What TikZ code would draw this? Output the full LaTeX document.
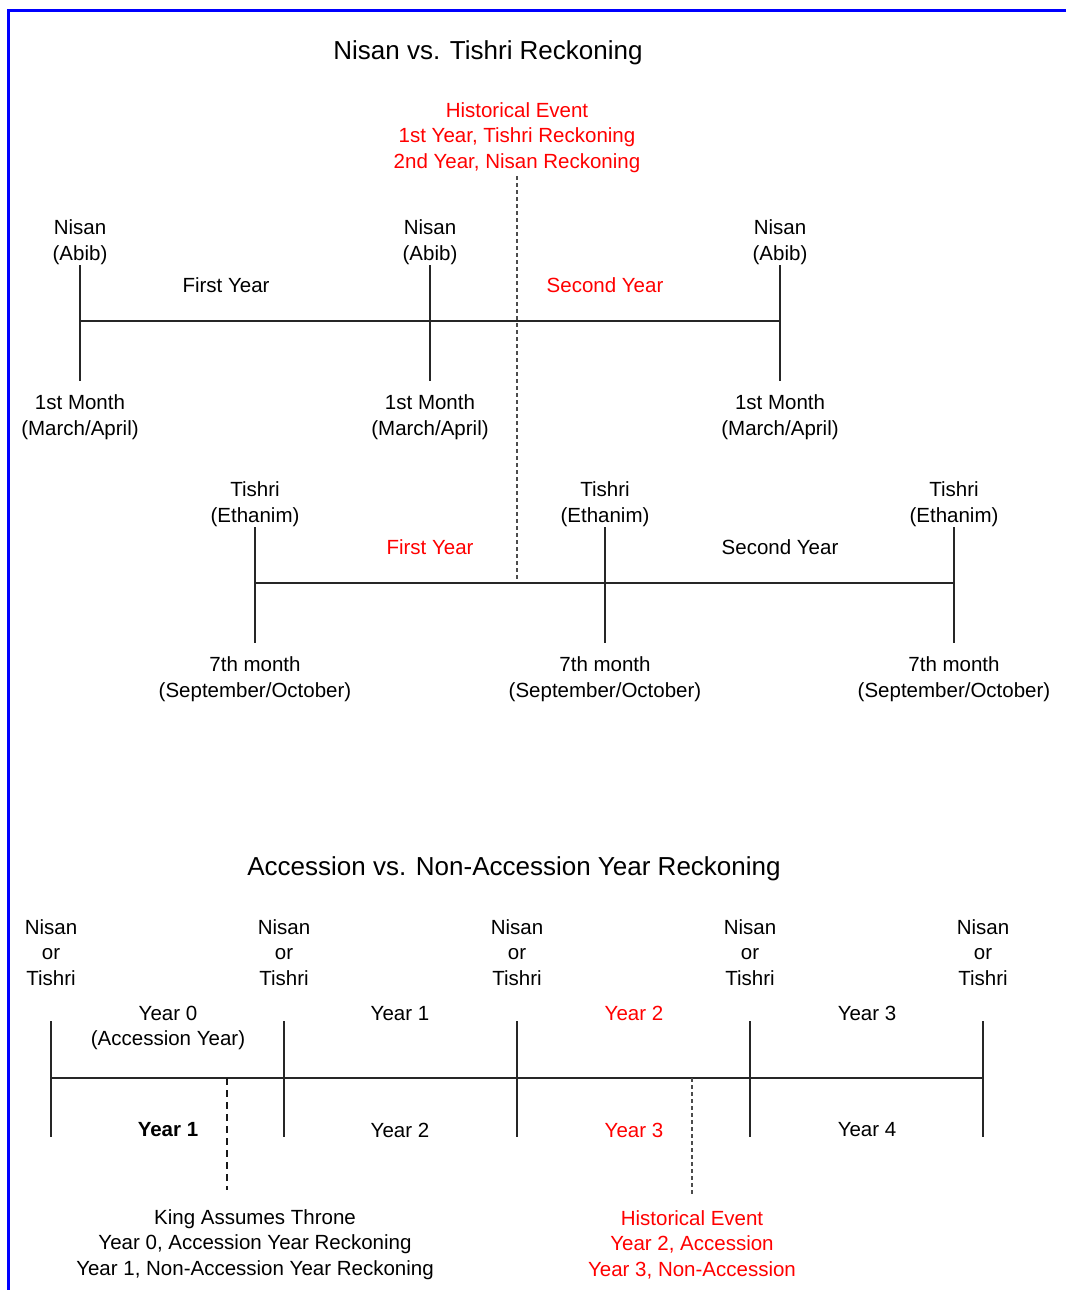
\documentclass[tikz,border=0pt]{standalone}
\usepackage{fontspec}
\setmainfont{Liberation Sans}
\usepackage{tikz}
\usetikzlibrary{positioning}
\usetikzlibrary{calc}
\tikzstyle{txt} = [align=center, inner sep=0pt, font=\fontsize{20.5}{25.5}\selectfont]
\tikzstyle{hot} = [txt, text=red]
\tikzstyle{heading} = [inner sep=0pt, font=\fontsize{26}{30}\selectfont]
\tikzstyle{rule} = [line width=1.3pt, black!85]
\tikzstyle{eventline} = [line width=1.2pt, black!70, dash pattern=on 4pt off 3pt]
\tikzstyle{kingline} = [line width=2pt, black!90, dash pattern=on 7pt off 5pt]

\begin{document}
\begin{tikzpicture}[x=1pt, y=-1pt]
		\useasboundingbox (0,0) rectangle (1066,1290);
		
			% frame
			\draw[blue, line width=3pt] (1066,10.5) -- (8.5,10.5) -- (8.5,1290);
			
			% Nisan vs. Tishri
			\node[heading] (title1) at (488,53) {Nisan vs. Tishri Reckoning};
			\node[hot] (event1) at (517,137.5) {Historical Event\\1st Year, Tishri Reckoning\\2nd Year, Nisan Reckoning};
			\coordinate (event1top) at (517,176);
			\coordinate (event1bot) at (517,582);
			\draw[eventline] (event1top) -- (event1bot);
			
			% Nisan line
			\foreach \x/\n in {80/1, 430/2, 780/3} {
				\coordinate (nisan\n) at (\x,321);
				\node[txt] (nisanlbl\n) at (\x,242) {Nisan\\(Abib)};
				\node[txt] (month\n) at (\x,417) {1st Month\\(March/April)};
				\draw[rule] ($(nisan\n)+(0,-56)$) -- ($(nisan\n)+(0,60)$);
			}
			\draw[rule] (nisan1) -- (nisan3);
			\node[txt] (nfirst) at (226,285) {First Year};
			\node[hot] (nsecond) at (605,285) {Second Year};
			
			% Tishri line
			\foreach \x/\n in {255/1, 605/2, 954/3} {
				\coordinate (tishri\n) at (\x,583);
				\node[txt] (tishrilbl\n) at (\x,504) {Tishri\\(Ethanim)};
				\node[txt] (seventh\n) at (\x,679) {7th month\\(September/October)};
				\draw[rule] ($(tishri\n)+(0,-56)$) -- ($(tishri\n)+(0,60)$);
			}
			\draw[rule] (tishri1) -- (tishri3);
			\node[hot] (tfirst) at (430,547) {First Year};
			\node[txt] (tsecond) at (780,547) {Second Year};
			
			% Accession vs. Non-Accession
			\node[heading] (title2) at (514,869) {Accession vs. Non-Accession Year Reckoning};
			\foreach \x/\n in {51/1, 284/2, 517/3, 750/4, 983/5} {
				\coordinate (yr\n) at (\x,1078);
				\node[txt] (yrlbl\n) at (\x,952.5) {Nisan\\or\\Tishri};
				\draw[rule] ($(yr\n)+(0,-57)$) -- ($(yr\n)+(0,59)$);
			}
			\draw[rule] (yr1) -- (yr5);
			
			% accession years
			\node[txt] (acc0) at (168,1028) {Year 0\\(Accession Year)};
			\node[txt] (acc1) at (400,1014) {Year 1};
			\node[hot] (acc2) at (634,1013) {Year 2};
			\node[txt] (acc3) at (867,1013) {Year 3};
			
			% non-accession years
			\node[txt, font=\fontsize{20.5}{25.5}\selectfont\bfseries] (non1) at (168,1130) {Year 1};
			\node[txt] (non2) at (400,1130) {Year 2};
			\node[hot] (non3) at (634,1130) {Year 3};
			\node[txt] (non4) at (867,1130) {Year 4};
			
			% king and event
			\coordinate (kingtop) at (226.5,1078);
			\coordinate (kingbot) at (226.5,1190);
			\draw[kingline] (kingtop) -- (kingbot);
			\node[txt] (king) at (255,1244.5) {King Assumes Throne\\Year 0, Accession Year Reckoning\\Year 1, Non-Accession Year Reckoning};
			\coordinate (event2top) at (692,1078);
			\coordinate (event2bot) at (692,1195);
			\draw[eventline] (event2top) -- (event2bot);
			\node[hot] (event2) at (692,1244.5) {Historical Event\\Year 2, Accession\\Year 3, Non-Accession};
		
		\end{tikzpicture}
\end{document}
